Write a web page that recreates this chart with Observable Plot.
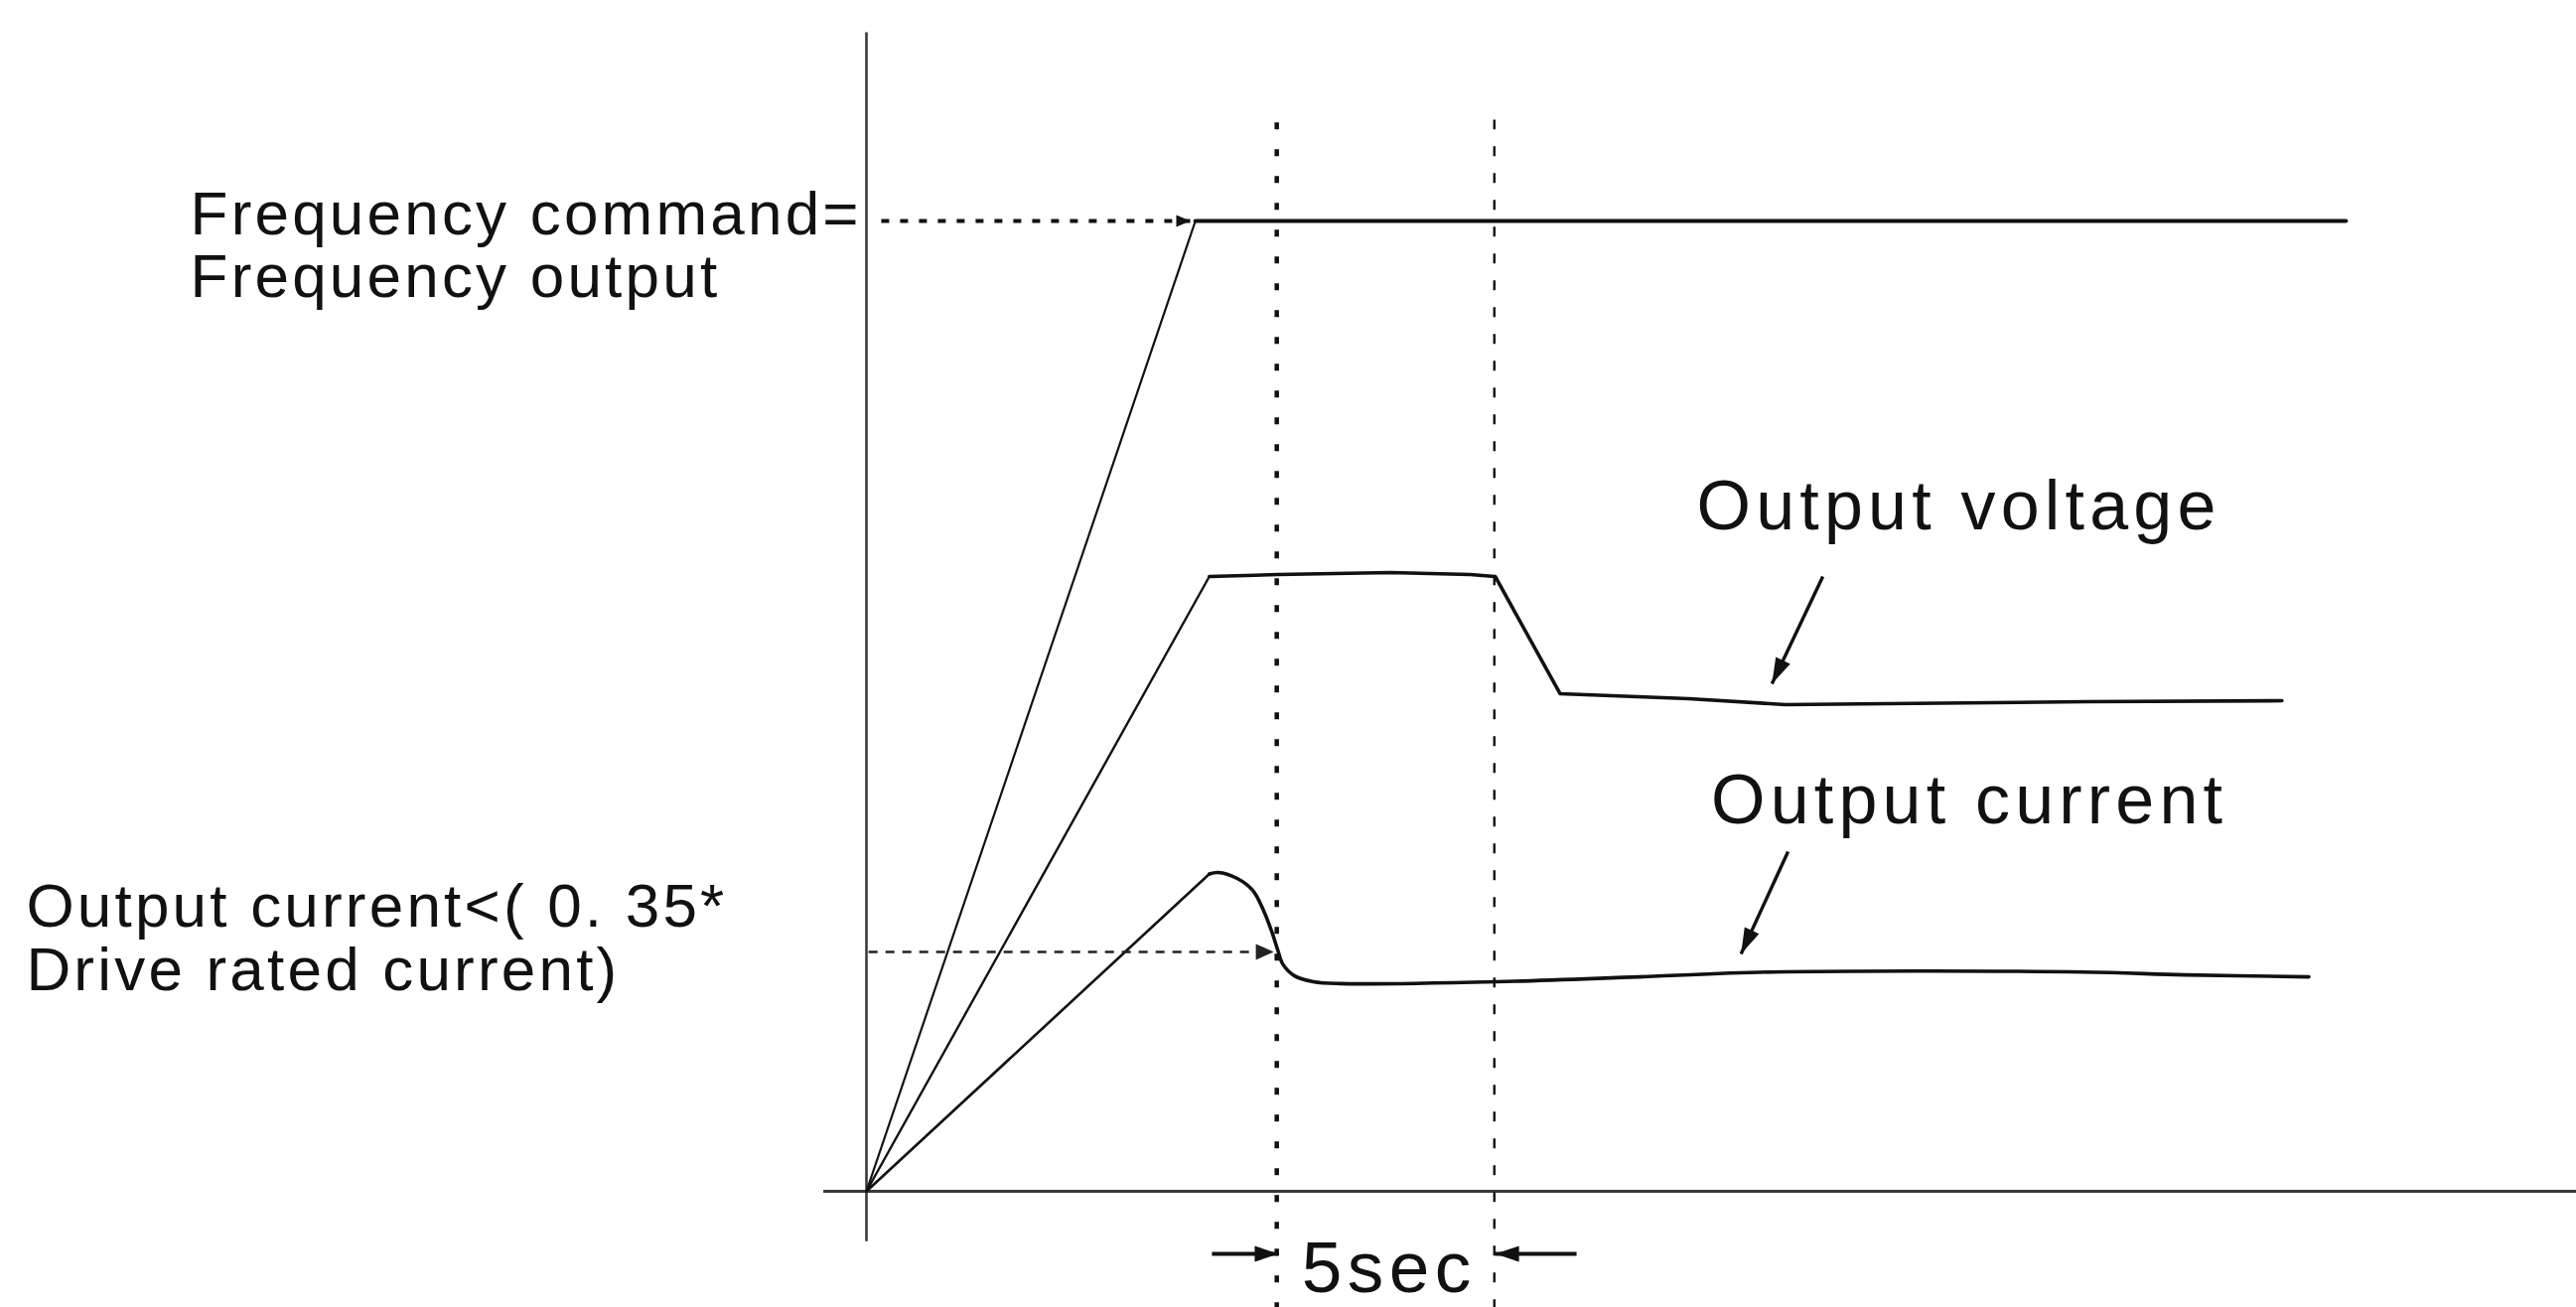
<!DOCTYPE html>
<html>
<head>
<meta charset="utf-8">
<script src="https://cdn.jsdelivr.net/npm/d3@7"></script>
<script src="https://cdn.jsdelivr.net/npm/@observablehq/plot@0.6"></script>
<style>
  html, body { margin: 0; padding: 0; background: #ffffff; }
  #chart svg { display: block; }
  g[font-size="62"] text { letter-spacing: 3.2px; }
  g[font-size="70"] text { letter-spacing: 5.2px; }
  g[font-size="73"] text { letter-spacing: 5.5px; }
</style>
</head>
<body>
<div id="chart"></div>
<script>
// x: time in seconds from start; y: level in % of the frequency command
const freqT = [0, 7.56, 34.0];
const freqV = [0, 100, 100];

const voltT = [0, 7.88, 9.45, 12.05, 13.88, 14.45, 15.94, 18.9, 21.12, 23.47, 28.04, 32.53];
const voltV = [0, 63.36, 63.56, 63.77, 63.56, 63.36, 51.28, 50.77, 50.15, 50.25, 50.46, 50.56];

const currT = [0, 7.88, 8.08, 8.52, 8.88, 9.13, 9.32, 9.45, 9.57, 9.84, 10.27, 10.89, 14.47, 17.76, 20.82, 27.95, 30.3, 33.15];
const currV = [0, 32.7, 32.86, 32.24, 31.0, 28.9, 26.7, 24.9, 23.4, 22.2, 21.6, 21.4, 21.6, 22.1, 22.6, 22.6, 22.3, 22.1];

const currentThreshold = 24.67;   // 0.35 * drive rated current
const windowStart = 9.43;         // current falls below threshold
const windowEnd = 14.43;          // 5 sec later: energy saving begins
const windowLabel = "5sec";

const freqLabel = ["Frequency command=", "Frequency output"];
const currLabel = ["Output current<( 0. 35*", "Drive rated current)"];
const curveLabels = [
  {text: "Output voltage", t: 19.08, v: 68.17},
  {text: "Output current", t: 19.41, v: 37.97}
];
const labelArrows = [
  {t1: 21.98, v1: 63.36, t2: 20.81, v2: 52.3},
  {t1: 21.18, v1: 35.0, t2: 20.1, v2: 24.46}
];
const spanArrows = [
  {t1: 7.94, t2: 9.47, v: -6.45},
  {t1: 16.32, t2: 14.45, v: -6.45}
];

const freq = freqT.map((t, i) => ({t, v: freqV[i]}));
const volt = voltT.map((t, i) => ({t, v: voltV[i]}));
const curr = currT.map((t, i) => ({t, v: currV[i]}));

const NS = "http://www.w3.org/2000/svg";
function tri(len, half) {
  return (color) => {
    const m = document.createElementNS(NS, "marker");
    m.setAttribute("viewBox", `${-len} ${-half} ${len} ${2 * half}`);
    m.setAttribute("markerWidth", len);
    m.setAttribute("markerHeight", 2 * half);
    m.setAttribute("markerUnits", "userSpaceOnUse");
    m.setAttribute("orient", "auto");
    m.setAttribute("refX", 0);
    m.setAttribute("refY", 0);
    m.setAttribute("overflow", "visible");
    const p = document.createElementNS(NS, "path");
    p.setAttribute("d", `M${-len},${-half}L0,0L${-len},${half}Z`);
    p.setAttribute("fill", color);
    p.setAttribute("stroke", "none");
    m.appendChild(p);
    return m;
  };
}

function build(useCustom) {
  const head = (l, h) => useCustom ? tri(l, h) : "arrow";
  const font = "Liberation Sans, Arial, Helvetica, sans-serif";
  return Plot.plot({
    width: 2594,
    height: 1316,
    margin: 0,
    x: {domain: [0, 39.3], range: [872, 2594], axis: null},
    y: {domain: [0, 100], range: [1199, 222], axis: null},
    style: {background: "#ffffff", fontFamily: font},
    marks: [
      // axes
      Plot.ruleX([0], {y1: -5.2, y2: 119.4, stroke: "#3a3a3a", strokeWidth: 2.6}),
      Plot.ruleY([0], {x1: -0.98, x2: 39.5, stroke: "#3a3a3a", strokeWidth: 3}),
      // 5 sec window guides
      Plot.ruleX([windowStart], {y1: -12.2, y2: 110.4, stroke: "#111", strokeWidth: 4.5, strokeDasharray: "7,20"}),
      Plot.ruleX([windowEnd], {y1: -12.2, y2: 110.4, stroke: "#111", strokeWidth: 2.4, strokeDasharray: "10,17"}),
      // ramps (thin)
      Plot.line(freq.slice(0, 2), {x: "t", y: "v", stroke: "#111", strokeWidth: 2.2}),
      Plot.line(volt.slice(0, 2), {x: "t", y: "v", stroke: "#111", strokeWidth: 2.4}),
      Plot.line(curr.slice(0, 2), {x: "t", y: "v", stroke: "#111", strokeWidth: 2.6}),
      // steady parts
      Plot.line(freq.slice(1), {x: "t", y: "v", stroke: "#111", strokeWidth: 4.2}),
      Plot.line(volt.slice(1), {x: "t", y: "v", stroke: "#111", strokeWidth: 3.6, curve: "linear", strokeLinejoin: "round"}),
      Plot.line(curr.slice(1), {x: "t", y: "v", stroke: "#111", strokeWidth: 3.6, curve: "catmull-rom", strokeLinejoin: "round"}),
      // dotted reference arrows
      Plot.link([100], {x1: 0.34, x2: 7.44, y1: d => d, y2: d => d, stroke: "#111", strokeWidth: 4, strokeDasharray: "8,11", markerEnd: head(14, 6)}),
      Plot.link([currentThreshold], {x1: 0.05, x2: 9.36, y1: d => d, y2: d => d, stroke: "#222", strokeWidth: 2.6, strokeDasharray: "9,8", markerEnd: head(18, 8)}),
      // label arrows
      Plot.link(labelArrows, {x1: "t1", y1: "v1", x2: "t2", y2: "v2", stroke: "#111", strokeWidth: 3.4, markerEnd: head(26, 8)}),
      Plot.link(spanArrows, {x1: "t1", y1: "v", x2: "t2", y2: "v", stroke: "#111", strokeWidth: 4, markerEnd: head(24, 8)}),
      // texts
      Plot.text([freqLabel.join("\n")], {x: -15.54, y: 92.12, text: d => d, textAnchor: "start", lineAnchor: "bottom", lineHeight: 1.032, fontSize: 62, fill: "#111", fontFamily: font}),
      Plot.text([currLabel.join("\n")], {x: -19.31, y: 20.68, text: d => d, textAnchor: "start", lineAnchor: "bottom", lineHeight: 1.032, fontSize: 62, fill: "#111", fontFamily: font}),
      Plot.text(curveLabels, {x: "t", y: "v", text: "text", textAnchor: "start", lineAnchor: "bottom", fontSize: 70, fill: "#111", fontFamily: font}),
      Plot.text([windowLabel], {x: 10.0, y: -10.4, text: d => d, textAnchor: "start", lineAnchor: "bottom", fontSize: 73, fill: "#111", fontFamily: font})
    ]
  });
}

let chart;
try {
  chart = build(true);
} catch (e) {
  chart = build(false);
}
document.getElementById("chart").appendChild(chart);
</script>
</body>
</html>
